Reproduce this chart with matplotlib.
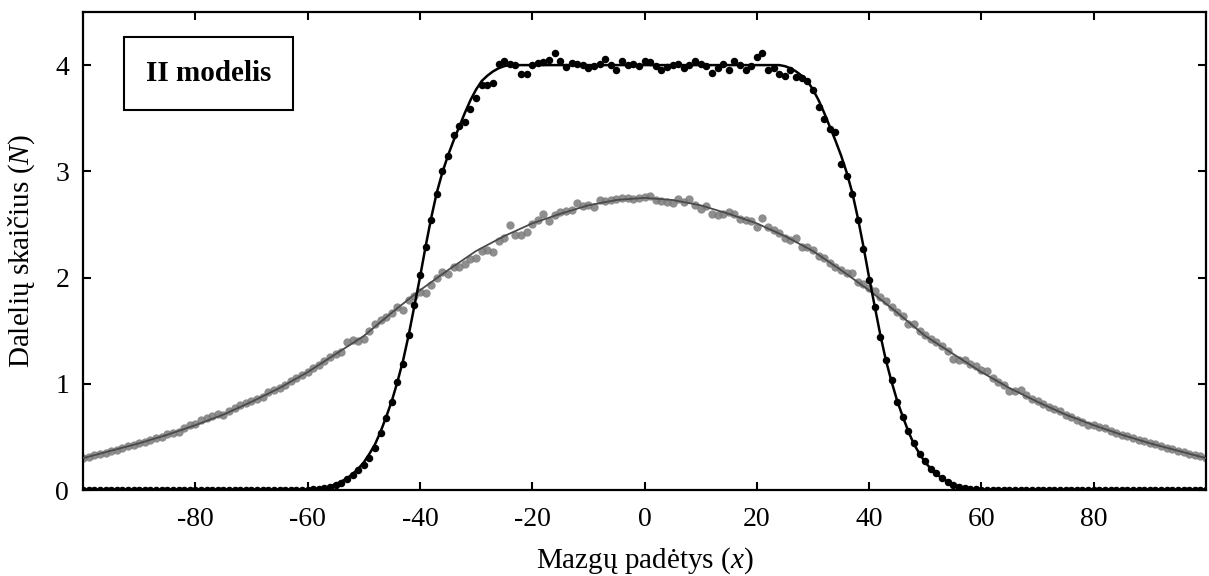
import matplotlib

matplotlib.use("Agg")

import matplotlib.pyplot as plt
import numpy as np
from matplotlib.patches import Rectangle

plt.rcParams["font.family"] = ["Liberation Serif", "DejaVu Serif"]
plt.rcParams["mathtext.fontset"] = "custom"
plt.rcParams["mathtext.rm"] = "Liberation Serif"
plt.rcParams["mathtext.it"] = "Liberation Serif:italic"
plt.rcParams["axes.unicode_minus"] = False

# node positions -100 ... 100
X_NODES = np.arange(-100, 101)

# model II, narrow start (black points)
BLACK_DOTS = [
    0, 0, 0, 0, 0, 0, 0, 0, 0, 0,
    0, 0, 0, 0, 0, 0, 0, 0, 0, 0,
    0, 0, 0, 0, 0, 0, 0, 0, 0, 0,
    0, 0, 0, 0, 0, 0, 0, 0, 0, 0,
    0.00, 0.005, 0.01, 0.02, 0.03, 0.05, 0.07, 0.10, 0.14, 0.19,
    0.24, 0.30, 0.40, 0.54, 0.68, 0.83, 1.02, 1.19, 1.46, 1.74,
    2.02, 2.29, 2.54, 2.79, 3.00, 3.14, 3.34, 3.43, 3.46, 3.59,
    3.69, 3.81, 3.81, 3.83, 4.01, 4.04, 4.01, 4.00, 3.92, 3.92,
    4.00, 4.02, 4.03, 4.05, 4.11, 4.04, 3.98, 4.02, 4.01, 4.00,
    3.97, 3.99, 4.01, 4.06, 4.00, 3.95, 4.04, 4.00, 4.01, 3.99,
    4.04,
    4.03, 3.99, 3.95, 3.98, 4.00, 4.01, 3.97, 4.00, 4.04, 4.01,
    3.99, 3.93, 3.97, 4.01, 3.95, 4.04, 4.00, 3.95, 3.99, 4.08,
    4.11, 3.95, 3.97, 3.92, 3.90, 3.95, 3.89, 3.88, 3.85, 3.77,
    3.61, 3.49, 3.40, 3.37, 3.07, 2.96, 2.79, 2.54, 2.27, 1.98,
    1.72, 1.44, 1.22, 1.04, 0.83, 0.69, 0.56, 0.44, 0.34, 0.27,
    0.20, 0.16, 0.11, 0.08, 0.05, 0.03, 0.02, 0.01, 0.005, 0.00,
    0, 0, 0, 0, 0, 0, 0, 0, 0, 0,
    0, 0, 0, 0, 0, 0, 0, 0, 0, 0,
    0, 0, 0, 0, 0, 0, 0, 0, 0, 0,
    0, 0, 0, 0, 0, 0, 0, 0, 0, 0,
]

# model II, wide spread (grey points)
GREY_DOTS = [
    0.30, 0.31, 0.33, 0.34, 0.35, 0.37, 0.38, 0.40, 0.41, 0.42,
    0.44, 0.45, 0.47, 0.49, 0.50, 0.53, 0.54, 0.55, 0.58, 0.61,
    0.62, 0.66, 0.68, 0.70, 0.72, 0.71, 0.74, 0.77, 0.80, 0.82,
    0.84, 0.86, 0.88, 0.92, 0.94, 0.96, 0.99, 1.03, 1.05, 1.08,
    1.11, 1.15, 1.18, 1.21, 1.25, 1.28, 1.30, 1.39, 1.41, 1.40,
    1.42, 1.50, 1.56, 1.60, 1.63, 1.67, 1.72, 1.69, 1.79, 1.83,
    1.86, 1.85, 1.93, 2.00, 2.05, 2.03, 2.10, 2.10, 2.13, 2.17,
    2.18, 2.25, 2.26, 2.24, 2.34, 2.37, 2.49, 2.40, 2.40, 2.43,
    2.50, 2.54, 2.60, 2.53, 2.59, 2.62, 2.63, 2.64, 2.70, 2.67,
    2.68, 2.66, 2.73, 2.72, 2.73, 2.74, 2.75, 2.75, 2.74, 2.75,
    2.76,
    2.77, 2.73, 2.72, 2.71, 2.70, 2.74, 2.71, 2.74, 2.68, 2.65,
    2.67, 2.60, 2.59, 2.60, 2.62, 2.60, 2.55, 2.54, 2.53, 2.48,
    2.56, 2.48, 2.45, 2.42, 2.37, 2.35, 2.37, 2.29, 2.29, 2.26,
    2.20, 2.18, 2.14, 2.10, 2.07, 2.04, 2.04, 1.96, 1.94, 1.90,
    1.87, 1.82, 1.78, 1.72, 1.68, 1.64, 1.56, 1.56, 1.50, 1.46,
    1.42, 1.39, 1.36, 1.31, 1.23, 1.22, 1.22, 1.19, 1.17, 1.13,
    1.12, 1.05, 1.02, 0.99, 0.93, 0.93, 0.94, 0.89, 0.86, 0.84,
    0.81, 0.78, 0.76, 0.74, 0.71, 0.69, 0.66, 0.64, 0.61, 0.61,
    0.59, 0.58, 0.56, 0.54, 0.52, 0.51, 0.49, 0.47, 0.46, 0.44,
    0.43, 0.41, 0.40, 0.39, 0.37, 0.36, 0.34, 0.33, 0.32, 0.30,
]

# smooth curves
BLACK_LINE_X = [
    -100, -60, -59, -58, -57, -56, -55, -54, -53, -52, -51, -50, -49, -48, -47,
    -46, -45, -44, -43, -42, -41, -40, -39, -38, -37, -36, -35, -34, -33, -32,
    -31, -30, -29, -28, -27, -26, -25, -24, 0,
    24, 25, 26, 27, 28, 29, 30, 31, 32, 33, 34, 35, 36, 37, 38, 39, 40, 41, 42,
    43, 44, 45, 46, 47, 48, 49, 50, 51, 52, 53, 54, 55, 56, 57, 58, 59, 60, 100,
]
BLACK_LINE_Y = [
    0.0, 0.0, 0.005, 0.01, 0.02, 0.035, 0.055, 0.08, 0.11, 0.15, 0.20, 0.26, 0.34,
    0.43, 0.55, 0.69, 0.84, 1.02, 1.22, 1.46, 1.73, 2.00, 2.29, 2.56, 2.80, 2.99,
    3.15, 3.29, 3.42, 3.55, 3.67, 3.77, 3.85, 3.90, 3.94, 3.97, 3.99, 4.00, 4.00,
    4.00, 3.99, 3.97, 3.94, 3.90, 3.85, 3.77, 3.67, 3.55, 3.42, 3.29, 3.15, 2.99,
    2.80, 2.56, 2.29, 2.00, 1.73, 1.46, 1.22, 1.02, 0.84, 0.69, 0.55, 0.43, 0.34,
    0.26, 0.20, 0.15, 0.11, 0.08, 0.055, 0.035, 0.02, 0.01, 0.005, 0.0, 0.0,
]

GREY_LINE_X = [
    -100, -95, -90, -85, -80, -75, -70, -65, -60, -55, -50, -45, -40, -35, -30,
    -25, -20, -15, -10, -5, 0, 5, 10, 15, 20, 25, 30, 35, 40, 45, 50, 55, 60,
    65, 70, 75, 80, 85, 90, 95, 100,
]
GREY_LINE_Y = [
    0.30, 0.37, 0.44, 0.52, 0.61, 0.71, 0.83, 0.96, 1.11, 1.28, 1.45, 1.67, 1.88,
    2.07, 2.25, 2.39, 2.51, 2.60, 2.68, 2.73, 2.75, 2.73, 2.68, 2.60, 2.51, 2.39,
    2.25, 2.07, 1.88, 1.67, 1.45, 1.28, 1.11, 0.96, 0.83, 0.71, 0.61, 0.52, 0.44,
    0.37, 0.30,
]

X_TICKS = [-80, -60, -40, -20, 0, 20, 40, 60, 80]
Y_TICKS = [0, 1, 2, 3, 4]


def main():
    fig = plt.figure(figsize=(12.09, 5.76), dpi=100)
    ax = fig.add_axes([0.0687, 0.1493, 0.9288, 0.8299])

    ax.plot(X_NODES, GREY_DOTS, "o", color="#7a7a7a", alpha=0.85, ms=6.0, mew=0, zorder=2)
    ax.plot(GREY_LINE_X, GREY_LINE_Y, "-", color="#4a4a4a", lw=1.3, zorder=3)
    ax.plot(X_NODES, BLACK_DOTS, "o", color="black", ms=5.4, mew=0, zorder=4)
    ax.plot(BLACK_LINE_X, BLACK_LINE_Y, "-", color="black", lw=1.8, zorder=5)

    ax.set_xlim(-100, 100)
    ax.set_ylim(0, 4.5)
    ax.set_xticks(X_TICKS)
    ax.set_yticks(Y_TICKS)
    ax.tick_params(direction="in", length=6, width=1.5, top=True, right=True,
                   labelsize=20)
    ax.tick_params(axis="x", pad=12)
    ax.tick_params(axis="y", pad=10)
    for spine in ax.spines.values():
        spine.set_linewidth(1.6)

    ax.set_xlabel("Mazgų padėtys ($x$)", fontsize=21)
    ax.set_ylabel("Dalelių skaičius ($N$)", fontsize=21)
    ax.xaxis.set_label_coords(0.5, -0.116)
    ax.yaxis.set_label_coords(-0.041, 0.5)

    ax.add_patch(Rectangle((0.0365, 0.795), 0.1505, 0.1527, transform=ax.transAxes,
                           fill=False, lw=1.5, ec="black", zorder=6))
    ax.text(0.1118, 0.871, "II modelis", transform=ax.transAxes, ha="center",
            va="center", fontsize=21, fontweight="bold", zorder=7)

    fig.savefig("out.png", dpi=100)


if __name__ == "__main__":
    main()
